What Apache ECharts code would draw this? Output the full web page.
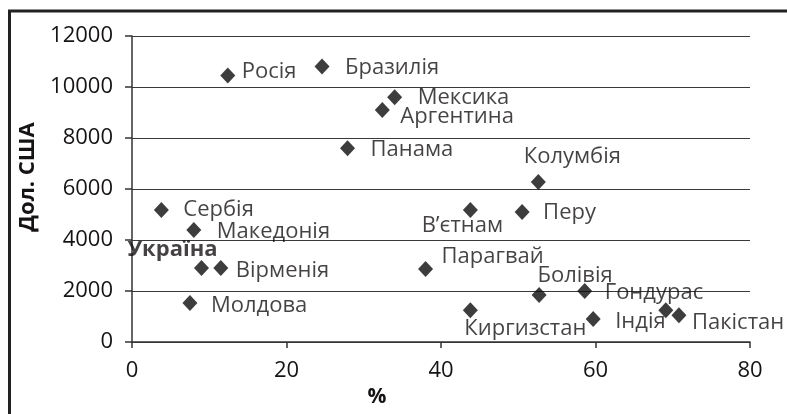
<!DOCTYPE html>
<html><head><meta charset="utf-8">
<script src="https://cdn.jsdelivr.net/npm/echarts@6/dist/echarts.min.js"></script>
<style>html,body{margin:0;padding:0;background:#fff}#c{width:787px;height:414px}</style>
</head><body><div id="c"></div>
<script>
// Data
const countries = ['Росія','Бразилія','Мексика','Аргентина','Панама','Колумбія','Сербія','Македонія','Україна','Вірменія','Молдова','В’єтнам','Перу','Парагвай','Болівія','Гондурас','Киргизстан','Індія','','Пакістан'];
const percent  = [12.4, 24.6, 34.0, 32.4, 27.9, 52.6, 3.8, 8.0, 9.0, 11.5, 7.5, 43.8, 50.5, 38.0, 52.7, 58.6, 43.8, 59.7, 69.1, 70.8];
const usd      = [10450, 10800, 9600, 9100, 7600, 6270, 5180, 4390, 2900, 2900, 1530, 5180, 5100, 2860, 1840, 2000, 1250, 900, 1250, 1050];
const xTicks = [0, 20, 40, 60, 80];
const yTicks = [0, 2000, 4000, 6000, 8000, 10000, 12000];

// Label placement (align, dx, dy) relative to marker centre
const labelLayoutList = [
  ['left',14,-4],['left',23,1],['left',23,1],['left',18,7],['left',23,2],
  ['center',34,-25],['left',22,0],['left',23,2],['left',-74,-18],['left',15,3],
  ['left',21,3],['center',-8,16],['left',21,1],['left',16,-12],['center',36,-19],
  ['left',20,2],['center',55,19],['left',22,3],['left',0,0],['left',13,8]
];

const FONT = '"Open Sans", "Noto Sans", sans-serif';
const TXT = '#161314';

const data = countries.map((n, i) => ({
  name: n,
  value: [percent[i], usd[i]],
  label: {
    show: n !== '',
    fontWeight: n === 'Україна' ? 'bold' : 'normal'
  }
}));

const chart = echarts.init(document.getElementById('c'), null, {renderer: 'canvas'});
chart.setOption({
  animation: false,
  backgroundColor: '#fff',
  textStyle: {fontFamily: FONT},
  grid: {left: 132, right: 37, top: 36, bottom: 72, containLabel: false},
  xAxis: {
    type: 'value', min: xTicks[0], max: xTicks[xTicks.length-1], interval: 20,
    name: '%', nameLocation: 'middle', nameGap: 44,
    nameTextStyle: {fontFamily: FONT, fontSize: 21, fontWeight: 'bold', color: TXT, padding: [0, 128, 0, 0]},
    axisLine: {show: true, lineStyle: {color: '#333', width: 1.5}},
    axisTick: {show: true, inside: false, length: 6, lineStyle: {color: '#333', width: 1.5}},
    axisLabel: {fontFamily: FONT, fontSize: 22, color: TXT, margin: 18, formatter: v => String(v)},
    splitLine: {show: false}
  },
  yAxis: {
    type: 'value', min: yTicks[0], max: yTicks[yTicks.length-1], interval: 2000,
    name: 'Дол. США', nameLocation: 'middle', nameGap: 92, nameRotate: 90,
    nameTextStyle: {fontFamily: FONT, fontSize: 22, fontWeight: 'bold', color: TXT, padding: [0, 0, 0, 24]},
    axisLine: {show: true, lineStyle: {color: '#333', width: 1.5}},
    axisTick: {show: true, inside: false, length: 7, lineStyle: {color: '#333', width: 1.5}},
    axisLabel: {fontFamily: FONT, fontSize: 22, color: TXT, margin: 19, formatter: v => String(v)},
    splitLine: {show: true, lineStyle: {color: '#3a3a3a', width: 1.2}}
  },
  graphic: [{
    type: 'rect', silent: true, z: 100,
    shape: {x: 9.5, y: 11, width: 820, height: 440},
    style: {fill: 'none', stroke: '#222', lineWidth: 3}
  }],
  series: [{
    type: 'scatter',
    symbol: 'diamond',
    symbolSize: [15, 16],
    itemStyle: {color: '#0d0d0d'},
    label: {fontFamily: FONT, fontSize: 22, color: TXT, formatter: '{b}', position: 'inside'},
    labelLayout: function (p) {
      const l = labelLayoutList[p.dataIndex];
      const r = p.rect;
      const cx = r.x + r.width / 2, cy = r.y + r.height / 2;
      const w = p.labelRect.width;
      const left = l[0] === 'left' ? cx + l[1] : cx + l[1] - w / 2;
      return {x: left, y: cy + l[2], align: 'left', verticalAlign: 'middle', hideOverlap: false};
    },
    data: data
  }]
});
</script></body></html>
